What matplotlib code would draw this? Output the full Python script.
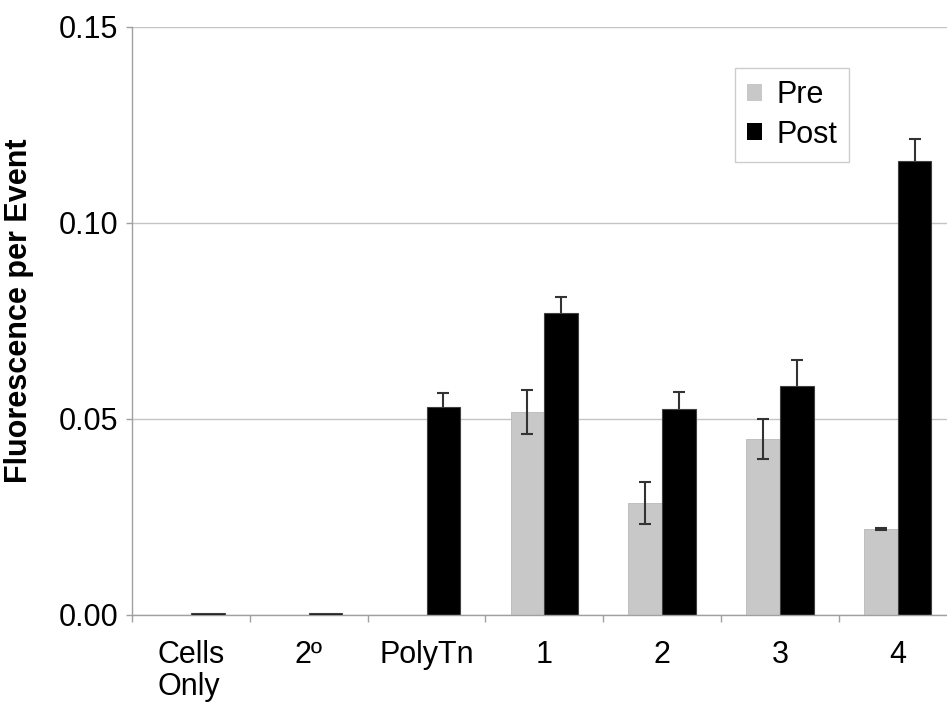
import matplotlib
matplotlib.use("Agg")
import matplotlib.pyplot as plt
from matplotlib.patches import Patch
import numpy as np

plt.rcParams['font.family'] = ['Liberation Sans', 'DejaVu Sans']

categories = ["Cells\nOnly", "2º", "PolyTn", "1", "2", "3", "4"]
pre_values = [0.0, 0.0, 0.0, 0.0518, 0.0286, 0.0449, 0.0219]
pre_errors = [0.0, 0.0, 0.0, 0.0055, 0.0053, 0.0051, 0.0003]
post_values = [0.0005, 0.0005, 0.0530, 0.0770, 0.0525, 0.0584, 0.1159]
post_errors = [0.0, 0.0, 0.0036, 0.0040, 0.0044, 0.0066, 0.0055]
y_ticks = [0.00, 0.05, 0.10, 0.15]
y_tick_labels = ["0.00", "0.05", "0.10", "0.15"]

W, H = 947, 702
fig = plt.figure(figsize=(W / 100, H / 100), dpi=100)
ax_left, ax_bottom = 132 / W, (H - 615) / H
ax_w, ax_h = 824.6 / W, 588 / H
ax = fig.add_axes([ax_left, ax_bottom, ax_w, ax_h])

x = np.arange(len(categories))
bw = 0.286
pre_color = "#c8c8c8"
post_color = "#000000"
err_color = "#333333"
fs = 22

ax.bar(x - bw / 2, pre_values, width=bw, color=pre_color, edgecolor="#b8b8b8",
       linewidth=0.6, zorder=2)
ax.bar(x + bw / 2, post_values, width=bw, color=post_color, edgecolor="#404040",
       linewidth=0.8, zorder=2)

pre_mask = np.array(pre_errors) > 0
post_mask = np.array(post_errors) > 0
ax.errorbar((x - bw / 2)[pre_mask], np.array(pre_values)[pre_mask],
            yerr=np.array(pre_errors)[pre_mask], fmt="none", ecolor=err_color,
            elinewidth=1.5, capsize=4, capthick=1.5, zorder=3)
ax.errorbar((x + bw / 2)[post_mask], np.array(post_values)[post_mask],
            yerr=np.array(post_errors)[post_mask], fmt="none", ecolor=err_color,
            elinewidth=1.5, capsize=4, capthick=1.5, zorder=1)

ax.set_xlim(-0.5, len(categories) - 0.5)
ax.set_ylim(0, 0.15)
ax.set_yticks(y_ticks)
ax.set_yticklabels(y_tick_labels, fontsize=fs)
ax.yaxis.grid(True, color="#c4c4c4", linewidth=1.0, zorder=0)
ax.set_axisbelow(True)

ax.set_xticks(x)
ax.set_xticklabels(categories, fontsize=fs, linespacing=1.1, multialignment="left")
ax.tick_params(axis="x", length=0, pad=18)
ax.set_xticks(np.arange(len(categories) + 1) - 0.5, minor=True)
ax.tick_params(axis="x", which="minor", length=5, color="#a0a0a0", width=1)
ax.tick_params(axis="y", length=4, color="#a0a0a0", width=1, pad=6)

for s in ["top", "right"]:
    ax.spines[s].set_visible(False)
for s in ["left", "bottom"]:
    ax.spines[s].set_color("#a0a0a0")
    ax.spines[s].set_linewidth(1.0)

ax.set_ylabel("Fluorescence per Event", fontsize=fs, fontweight="bold")
ax.yaxis.set_label_coords(-0.119, 0.517)

handles = [Patch(facecolor=pre_color, edgecolor="none"),
           Patch(facecolor=post_color, edgecolor="none")]
leg = ax.legend(handles, ["Pre", "Post"], loc="upper left",
                bbox_to_anchor=(0.731, 0.93), fontsize=fs, frameon=True,
                fancybox=False, edgecolor="#c0c0c0", handlelength=0.5,
                handleheight=0.5, handletextpad=0.45, labelspacing=0.3,
                borderpad=0.4, borderaxespad=0)
leg.get_frame().set_linewidth(1.0)

fig.savefig("out.png", dpi=100)
